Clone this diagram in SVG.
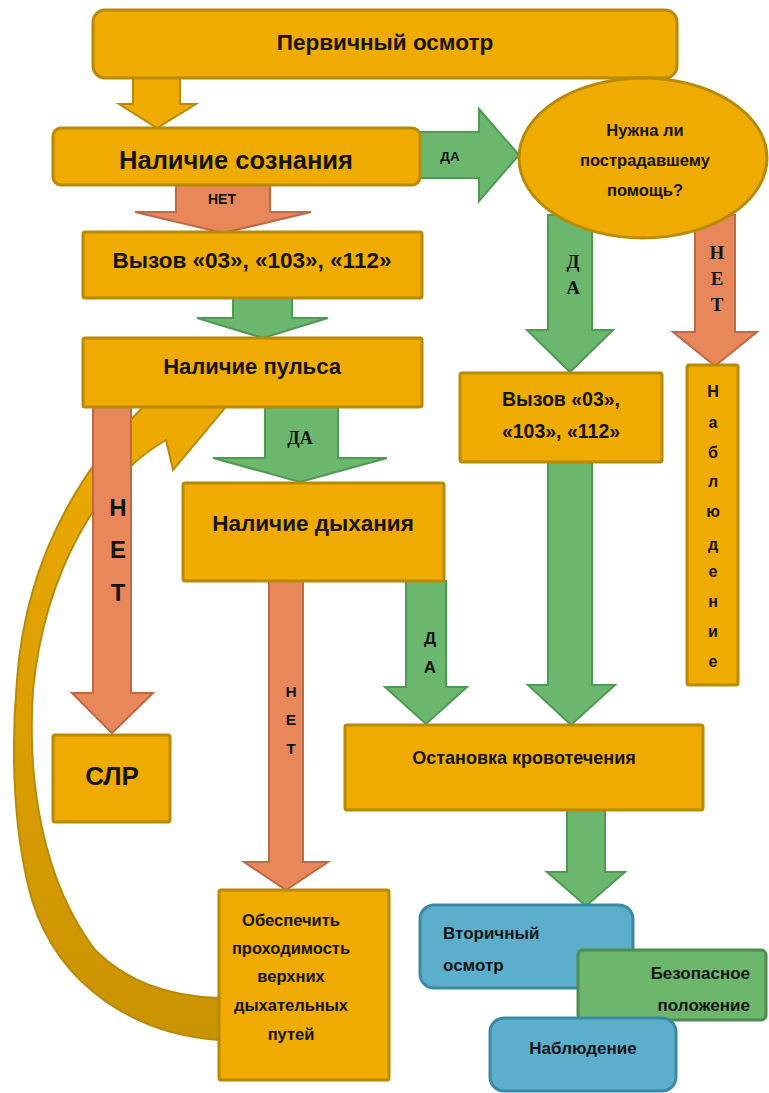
<svg xmlns="http://www.w3.org/2000/svg" width="769" height="1093" viewBox="0 0 769 1093">
<style>
.box{fill:#EFAB00;stroke:#B88A06;stroke-width:3}
.ga{fill:#6BB76E;stroke:#4E9A52;stroke-width:2}
.oa{fill:#E8875A;stroke:#BE6A44;stroke-width:2}
.ya{fill:#EFAB00;stroke:#B88A06;stroke-width:2}
.blue{fill:#5BAFCB;stroke:#3C89A3;stroke-width:3}
.gbox{fill:#6CB76C;stroke:#4D8E4F;stroke-width:3}
text{font-family:"Liberation Sans",Arial,sans-serif;font-weight:bold;fill:#141414;text-anchor:middle}
.serif{font-family:"Liberation Serif","Times New Roman",serif}
.start{text-anchor:start}
.end{text-anchor:end}
</style>
<defs>
<linearGradient id="curveGrad" x1="0" y1="0" x2="0" y2="1">
<stop offset="0" stop-color="#EFAB00"/>
<stop offset="1" stop-color="#C99300"/>
</linearGradient>
</defs>
<rect width="769" height="1093" fill="#ffffff"/>

<g id="connectors">
<path id="loop-arrow" d="M 220,1040 C 140,1035 60,990 32,900 C 15,840 10,760 17,680 C 25,570 70,480 145,405 L 130,392 L 235,396 L 173,470 L 166,440 C 100,478 45,570 33,690 C 27,780 42,880 95,950 C 130,985 175,997 220,998 Z" fill="url(#curveGrad)" stroke="#B88A06" stroke-width="2"/>
<polygon class="ya" points="133,78 180,78 180,104 196,104 157,128 119,104 133,104"/>
<polygon class="ga" points="420,132 479,132 479,109 519,155 479,201 479,178 420,178"/>
<polygon class="oa" points="176,185 270,185 270,212 311,212 223,233 135,212 176,212"/>
<polygon class="ga" points="233,298 292,298 292,318 328,318 263,338 197,318 233,318"/>
<polygon class="oa" points="93,407 131,407 131,693 153,693 112,733 72,693 93,693"/>
<polygon class="ga" points="265,407 338,407 338,458 387,458 300,482 213,458 265,458"/>
<polygon class="oa" points="269,581 303,581 303,862 328,862 286,890 244,862 269,862"/>
<polygon class="ga" points="406,581 446,581 446,687 467,687 426,724 385,687 406,687"/>
<polygon class="ga" points="548,215 592,215 592,330 613,330 570,372 527,330 548,330"/>
<polygon class="oa" points="695,215 735,215 735,332 757,332 715,366 673,332 695,332"/>
<polygon class="ga" points="548,462 592,462 592,685 615,685 571,725 528,685 548,685"/>
<polygon class="ga" points="567,810 605,810 605,872 625,872 586,906 547,872 567,872"/>
<text x="450" y="161" font-size="13.5">ДА</text>
<text x="222" y="204" font-size="14">НЕТ</text>
<text class="serif" x="300" y="444" font-size="18">ДА</text>
<text x="118" y="516" font-size="24">Н</text>
<text x="118" y="558" font-size="24">Е</text>
<text x="118" y="601" font-size="24">Т</text>
<text x="291" y="697" font-size="15.5">Н</text>
<text x="291" y="725" font-size="15.5">Е</text>
<text x="291" y="754" font-size="15.5">Т</text>
<text x="430" y="644" font-size="17">Д</text>
<text x="430" y="673" font-size="17">А</text>
<text class="serif" x="573" y="268" font-size="19">Д</text>
<text class="serif" x="573" y="294" font-size="19">А</text>
<text class="serif" x="717" y="259" font-size="19">Н</text>
<text class="serif" x="717" y="285" font-size="19">Е</text>
<text class="serif" x="717" y="311" font-size="19">Т</text>
</g>

<g id="primary-exam">
<rect class="box" x="93" y="10" width="584" height="68" rx="12"/>
<text x="385" y="50" font-size="22.5">Первичный осмотр</text>
</g>
<g id="consciousness">
<rect class="box" x="53" y="128" width="367" height="57" rx="8"/>
<text x="236" y="169" font-size="25.5">Наличие сознания</text>
</g>
<g id="help-needed">
<ellipse cx="643" cy="158" rx="124" ry="80" fill="#EFAB00" stroke="#B88A06" stroke-width="3"/>
<text x="645" y="136" font-size="16.5">Нужна ли</text>
<text x="645" y="166" font-size="16.5">пострадавшему</text>
<text x="645" y="196" font-size="16.5">помощь?</text>
</g>
<g id="call-left">
<rect class="box" x="83" y="232" width="339" height="66" rx="2"/>
<text x="252" y="268" font-size="22.5">Вызов «03», «103», «112»</text>
</g>
<g id="pulse">
<rect class="box" x="83" y="338" width="339" height="69" rx="2"/>
<text x="252" y="374" font-size="22">Наличие пульса</text>
</g>
<g id="breathing">
<rect class="box" x="183" y="483" width="261" height="98" rx="2"/>
<text x="313" y="531" font-size="22.5">Наличие дыхания</text>
</g>
<g id="cpr">
<rect class="box" x="53" y="735" width="117" height="87" rx="2"/>
<text x="112" y="785" font-size="26">СЛР</text>
</g>
<g id="airway">
<rect class="box" x="219" y="890" width="170" height="190" rx="2"/>
<text x="291" y="926" font-size="16.5">Обеспечить</text>
<text x="291" y="954" font-size="16.5">проходимость</text>
<text x="291" y="982" font-size="16.5">верхних</text>
<text x="291" y="1011" font-size="16.5">дыхательных</text>
<text x="291" y="1040" font-size="16.5">путей</text>
</g>
<g id="call-right">
<rect class="box" x="460" y="373" width="202" height="89" rx="2"/>
<text x="561" y="406" font-size="19.5">Вызов «03»,</text>
<text x="561" y="438" font-size="19.5">«103», «112»</text>
</g>
<g id="observation-vertical">
<rect class="box" x="687" y="365" width="51" height="320" rx="2"/>
<text x="713" y="397" font-size="16">Н</text>
<text x="713" y="428" font-size="16">а</text>
<text x="713" y="458" font-size="16">б</text>
<text x="713" y="487" font-size="16">л</text>
<text x="713" y="517" font-size="16">ю</text>
<text x="713" y="550" font-size="16">д</text>
<text x="713" y="577" font-size="16">е</text>
<text x="713" y="607" font-size="16">н</text>
<text x="713" y="637" font-size="16">и</text>
<text x="713" y="667" font-size="16">е</text>
</g>
<g id="bleeding">
<rect class="box" x="345" y="725" width="358" height="85" rx="2"/>
<text x="524" y="764" font-size="18">Остановка кровотечения</text>
</g>
<g id="secondary-exam">
<rect class="blue" x="420" y="905" width="213" height="83" rx="14"/>
<text class="start" x="443" y="939" font-size="17">Вторичный</text>
<text class="start" x="443" y="971" font-size="17">осмотр</text>
</g>
<g id="safe-position">
<rect class="gbox" x="578" y="950" width="188" height="70" rx="5"/>
<text class="end" x="750" y="979" font-size="17">Безопасное</text>
<text class="end" x="750" y="1011" font-size="17">положение</text>
</g>
<g id="observation">
<rect class="blue" x="490" y="1018" width="186" height="73" rx="14"/>
<text x="583" y="1054" font-size="17">Наблюдение</text>
</g>
</svg>
